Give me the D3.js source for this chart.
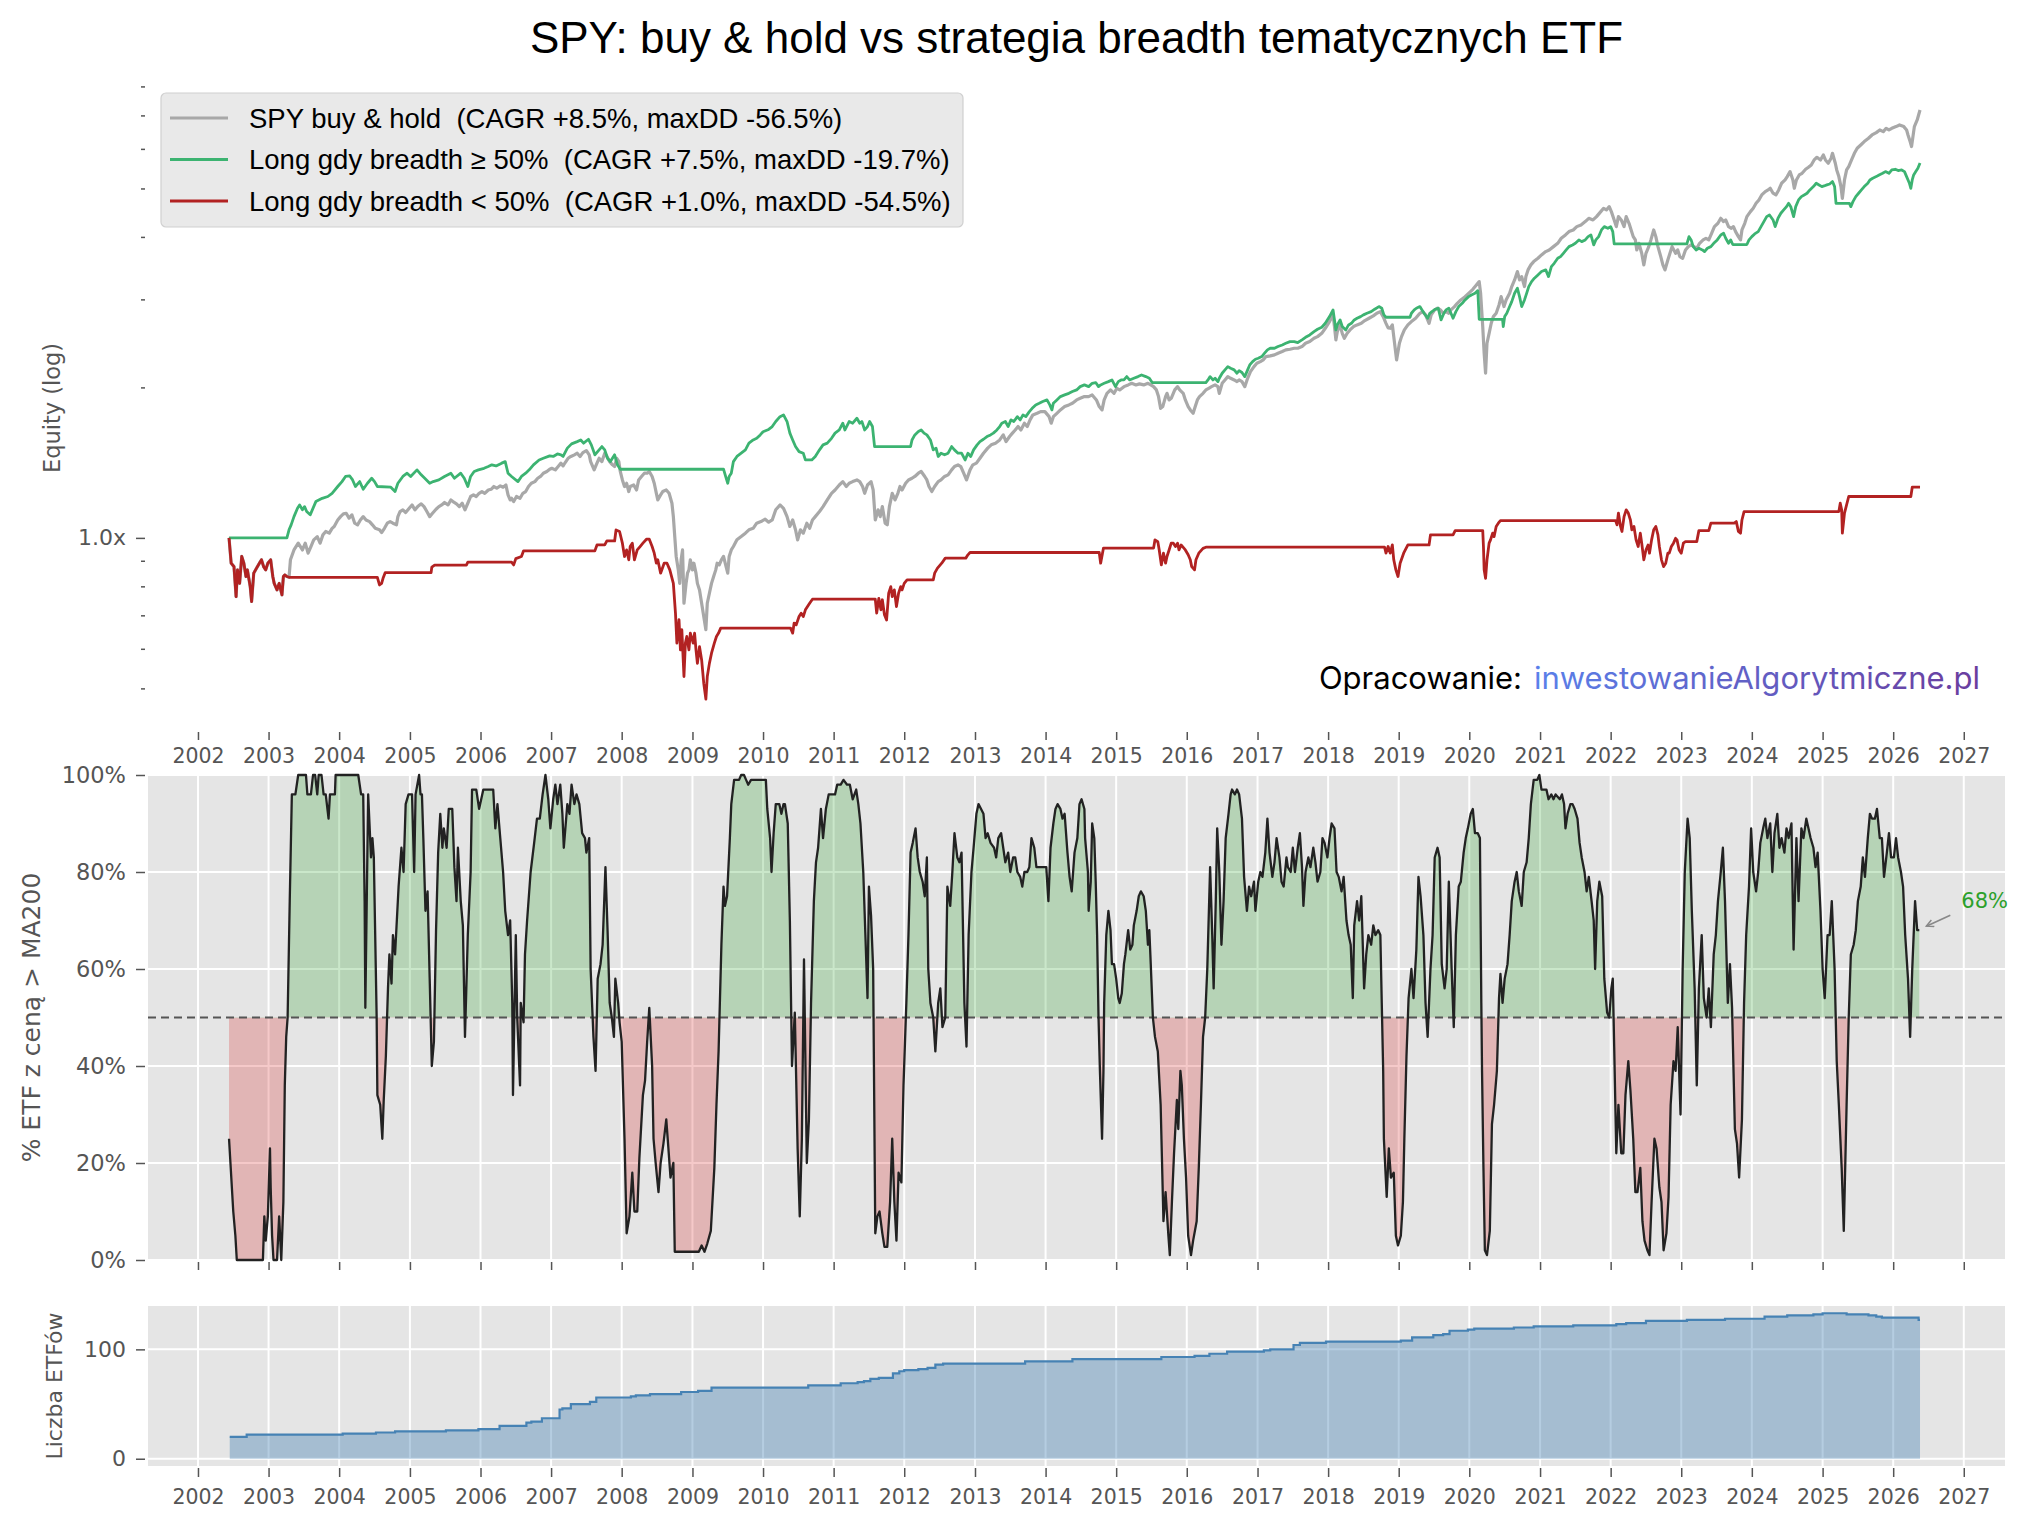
<!DOCTYPE html>
<meta charset="utf-8">
<body style="margin:0;background:#fff">
<script src="https://cdn.jsdelivr.net/npm/d3@7"></script>
<script>

  // ---- data (decimal year, value) ----
  const seriesLabels = [
    'SPY buy & hold  (CAGR +8.5%, maxDD -56.5%)',
    'Long gdy breadth \u2265 50%  (CAGR +7.5%, maxDD -19.7%)',
    'Long gdy breadth < 50%  (CAGR +1.0%, maxDD -54.5%)'
  ];
  const seriesColors = ['#a8a8a8', '#3cb371', '#b22222'];

  const yearTicks = d3.range(2002, 2028);
  const pctTicks = [0, 20, 40, 60, 80, 100];
  const countTicks = [0, 100];
  const equityTicks = [1];
  const equityMinor = [0.5, 0.6, 0.7, 0.8, 0.9, 2, 3, 4, 5, 6, 7, 8];

  const spy = [[2002.44,1.0],[2002.47,0.89],[2002.51,0.876],[2002.54,0.763],[2002.56,0.863],[2002.59,0.811],[2002.62,0.918],[2002.65,0.89],[2002.68,0.837],[2002.70,0.863],[2002.74,0.799],[2002.76,0.746],[2002.79,0.85],[2002.83,0.87],[2002.87,0.89],[2002.90,0.904],[2002.93,0.876],[2002.96,0.863],[2002.99,0.89],[2003.03,0.904],[2003.06,0.837],[2003.08,0.811],[2003.12,0.787],[2003.15,0.811],[2003.19,0.769],[2003.21,0.837],[2003.23,0.843],[2003.26,0.837],[2003.29,0.834],[2003.31,0.904],[2003.36,0.946],[2003.42,0.976],[2003.48,0.946],[2003.52,0.976],[2003.56,0.932],[2003.60,0.961],[2003.64,0.991],[2003.69,1.006],[2003.73,0.976],[2003.77,1.014],[2003.81,1.03],[2003.86,1.022],[2003.90,1.045],[2003.93,1.054],[2003.98,1.086],[2004.02,1.103],[2004.06,1.117],[2004.10,1.12],[2004.14,1.095],[2004.18,1.112],[2004.22,1.07],[2004.26,1.062],[2004.30,1.086],[2004.34,1.103],[2004.38,1.086],[2004.43,1.078],[2004.47,1.062],[2004.51,1.045],[2004.57,1.038],[2004.60,1.025],[2004.64,1.045],[2004.68,1.07],[2004.72,1.078],[2004.76,1.07],[2004.81,1.062],[2004.83,1.103],[2004.86,1.129],[2004.90,1.138],[2004.94,1.124],[2004.99,1.146],[2005.03,1.164],[2005.07,1.138],[2005.11,1.155],[2005.16,1.17],[2005.20,1.155],[2005.24,1.129],[2005.28,1.103],[2005.32,1.12],[2005.37,1.141],[2005.41,1.155],[2005.45,1.164],[2005.49,1.177],[2005.54,1.164],[2005.58,1.191],[2005.61,1.182],[2005.66,1.17],[2005.70,1.155],[2005.74,1.173],[2005.78,1.138],[2005.82,1.173],[2005.86,1.21],[2005.90,1.219],[2005.94,1.21],[2005.98,1.228],[2006.02,1.238],[2006.06,1.228],[2006.11,1.247],[2006.15,1.251],[2006.19,1.267],[2006.23,1.257],[2006.28,1.271],[2006.32,1.263],[2006.36,1.276],[2006.39,1.219],[2006.42,1.191],[2006.44,1.2],[2006.47,1.182],[2006.51,1.21],[2006.56,1.2],[2006.60,1.228],[2006.64,1.238],[2006.68,1.267],[2006.72,1.286],[2006.77,1.296],[2006.81,1.316],[2006.85,1.327],[2006.89,1.347],[2006.94,1.358],[2006.98,1.372],[2007.01,1.378],[2007.06,1.368],[2007.10,1.389],[2007.14,1.411],[2007.17,1.393],[2007.20,1.415],[2007.24,1.443],[2007.28,1.455],[2007.33,1.466],[2007.37,1.477],[2007.41,1.455],[2007.45,1.481],[2007.50,1.495],[2007.54,1.466],[2007.56,1.421],[2007.61,1.368],[2007.65,1.411],[2007.68,1.443],[2007.72,1.421],[2007.76,1.477],[2007.79,1.455],[2007.83,1.421],[2007.87,1.4],[2007.90,1.389],[2007.93,1.443],[2007.96,1.421],[2007.98,1.358],[2008.01,1.306],[2008.04,1.267],[2008.07,1.286],[2008.10,1.238],[2008.12,1.267],[2008.17,1.276],[2008.21,1.247],[2008.24,1.306],[2008.28,1.327],[2008.32,1.347],[2008.36,1.347],[2008.39,1.358],[2008.43,1.327],[2008.46,1.286],[2008.49,1.228],[2008.51,1.191],[2008.55,1.219],[2008.58,1.238],[2008.63,1.247],[2008.67,1.228],[2008.71,1.173],[2008.73,1.103],[2008.75,1.006],[2008.77,0.918],[2008.80,0.863],[2008.82,0.811],[2008.84,0.904],[2008.86,0.946],[2008.88,0.74],[2008.91,0.811],[2008.93,0.85],[2008.95,0.863],[2008.97,0.904],[2009.00,0.863],[2009.02,0.89],[2009.05,0.85],[2009.07,0.811],[2009.10,0.787],[2009.13,0.74],[2009.16,0.696],[2009.19,0.655],[2009.21,0.74],[2009.24,0.775],[2009.27,0.811],[2009.30,0.837],[2009.33,0.863],[2009.35,0.89],[2009.38,0.883],[2009.41,0.904],[2009.44,0.918],[2009.47,0.883],[2009.50,0.85],[2009.52,0.918],[2009.55,0.946],[2009.58,0.961],[2009.63,0.991],[2009.69,1.006],[2009.75,1.022],[2009.80,1.038],[2009.86,1.045],[2009.91,1.07],[2009.97,1.078],[2010.03,1.09],[2010.08,1.075],[2010.13,1.086],[2010.18,1.138],[2010.24,1.164],[2010.29,1.146],[2010.34,1.103],[2010.38,1.054],[2010.42,1.086],[2010.46,1.038],[2010.49,0.991],[2010.53,1.038],[2010.57,1.022],[2010.62,1.07],[2010.66,1.045],[2010.70,1.086],[2010.74,1.103],[2010.80,1.129],[2010.85,1.155],[2010.91,1.191],[2010.97,1.228],[2011.02,1.247],[2011.08,1.276],[2011.13,1.296],[2011.18,1.267],[2011.22,1.286],[2011.27,1.296],[2011.33,1.306],[2011.37,1.296],[2011.41,1.267],[2011.44,1.228],[2011.48,1.276],[2011.53,1.296],[2011.56,1.247],[2011.59,1.086],[2011.63,1.138],[2011.66,1.103],[2011.69,1.155],[2011.73,1.07],[2011.76,1.062],[2011.79,1.155],[2011.83,1.228],[2011.87,1.191],[2011.91,1.228],[2011.94,1.267],[2011.97,1.247],[2012.02,1.286],[2012.06,1.306],[2012.11,1.316],[2012.15,1.327],[2012.20,1.347],[2012.24,1.358],[2012.29,1.327],[2012.32,1.306],[2012.35,1.267],[2012.39,1.238],[2012.43,1.267],[2012.48,1.296],[2012.52,1.306],[2012.57,1.327],[2012.62,1.337],[2012.67,1.368],[2012.71,1.389],[2012.76,1.4],[2012.80,1.389],[2012.84,1.347],[2012.88,1.306],[2012.93,1.368],[2012.97,1.4],[2013.02,1.411],[2013.07,1.443],[2013.12,1.477],[2013.18,1.512],[2013.23,1.535],[2013.29,1.547],[2013.35,1.57],[2013.40,1.607],[2013.44,1.558],[2013.49,1.595],[2013.53,1.62],[2013.57,1.644],[2013.61,1.67],[2013.65,1.644],[2013.70,1.696],[2013.74,1.67],[2013.78,1.722],[2013.82,1.762],[2013.88,1.775],[2013.93,1.789],[2013.99,1.789],[2014.05,1.748],[2014.08,1.696],[2014.11,1.748],[2014.16,1.775],[2014.21,1.803],[2014.27,1.831],[2014.33,1.845],[2014.38,1.859],[2014.44,1.888],[2014.49,1.902],[2014.55,1.917],[2014.61,1.917],[2014.66,1.932],[2014.72,1.888],[2014.76,1.831],[2014.80,1.803],[2014.83,1.888],[2014.87,1.946],[2014.92,1.977],[2014.97,1.946],[2015.01,1.992],[2015.05,1.977],[2015.11,2.007],[2015.17,2.023],[2015.22,2.038],[2015.28,2.023],[2015.33,2.033],[2015.39,2.023],[2015.45,2.038],[2015.49,2.023],[2015.53,2.007],[2015.57,1.977],[2015.60,1.917],[2015.63,1.816],[2015.66,1.831],[2015.70,1.917],[2015.72,1.946],[2015.75,1.888],[2015.78,1.902],[2015.83,1.977],[2015.87,2.007],[2015.90,1.977],[2015.95,1.946],[2015.98,1.888],[2016.02,1.831],[2016.05,1.803],[2016.09,1.775],[2016.12,1.831],[2016.15,1.888],[2016.18,1.917],[2016.23,1.946],[2016.27,1.977],[2016.31,1.992],[2016.35,2.007],[2016.40,2.023],[2016.44,2.007],[2016.46,1.946],[2016.50,2.038],[2016.54,2.07],[2016.58,2.102],[2016.62,2.086],[2016.67,2.07],[2016.71,2.054],[2016.74,2.07],[2016.78,2.054],[2016.82,2.007],[2016.86,2.086],[2016.90,2.151],[2016.95,2.201],[2016.99,2.235],[2017.04,2.252],[2017.08,2.27],[2017.12,2.305],[2017.18,2.312],[2017.24,2.323],[2017.29,2.341],[2017.35,2.359],[2017.40,2.377],[2017.46,2.384],[2017.52,2.395],[2017.57,2.395],[2017.63,2.414],[2017.68,2.451],[2017.74,2.47],[2017.80,2.508],[2017.85,2.527],[2017.91,2.566],[2017.96,2.626],[2018.02,2.708],[2018.07,2.793],[2018.09,2.647],[2018.11,2.489],[2018.13,2.586],[2018.17,2.667],[2018.20,2.566],[2018.23,2.508],[2018.27,2.566],[2018.31,2.606],[2018.36,2.647],[2018.41,2.667],[2018.47,2.687],[2018.52,2.721],[2018.58,2.75],[2018.64,2.78],[2018.69,2.814],[2018.74,2.835],[2018.78,2.771],[2018.82,2.687],[2018.85,2.63],[2018.88,2.626],[2018.91,2.667],[2018.93,2.527],[2018.97,2.27],[2019.01,2.451],[2019.04,2.527],[2019.08,2.606],[2019.13,2.667],[2019.18,2.708],[2019.24,2.75],[2019.30,2.814],[2019.34,2.835],[2019.38,2.793],[2019.41,2.729],[2019.43,2.687],[2019.46,2.793],[2019.51,2.858],[2019.55,2.88],[2019.59,2.858],[2019.63,2.814],[2019.67,2.835],[2019.71,2.814],[2019.74,2.858],[2019.79,2.902],[2019.83,2.946],[2019.88,2.992],[2019.94,3.038],[2019.99,3.085],[2020.05,3.142],[2020.10,3.206],[2020.14,3.256],[2020.16,3.085],[2020.19,2.647],[2020.21,2.341],[2020.23,2.135],[2020.25,2.451],[2020.28,2.566],[2020.31,2.687],[2020.34,2.771],[2020.38,2.814],[2020.42,2.924],[2020.45,3.038],[2020.49,2.902],[2020.52,2.992],[2020.57,3.085],[2020.60,3.182],[2020.64,3.281],[2020.68,3.41],[2020.71,3.281],[2020.74,3.332],[2020.78,3.182],[2020.80,3.332],[2020.83,3.436],[2020.87,3.516],[2020.91,3.57],[2020.97,3.625],[2021.02,3.681],[2021.08,3.738],[2021.13,3.767],[2021.19,3.825],[2021.25,3.884],[2021.30,3.975],[2021.36,4.036],[2021.41,4.099],[2021.47,4.13],[2021.52,4.194],[2021.58,4.227],[2021.64,4.292],[2021.69,4.358],[2021.75,4.325],[2021.80,4.392],[2021.86,4.494],[2021.90,4.563],[2021.94,4.529],[2021.98,4.598],[2022.01,4.494],[2022.05,4.325],[2022.08,4.194],[2022.11,4.392],[2022.15,4.325],[2022.19,4.194],[2022.22,4.392],[2022.26,4.259],[2022.29,4.13],[2022.32,4.005],[2022.35,3.945],[2022.37,3.767],[2022.40,3.884],[2022.44,3.709],[2022.47,3.516],[2022.50,3.709],[2022.54,3.825],[2022.57,3.945],[2022.61,4.13],[2022.64,4.005],[2022.67,3.825],[2022.71,3.653],[2022.74,3.516],[2022.77,3.436],[2022.81,3.597],[2022.84,3.709],[2022.87,3.825],[2022.92,3.709],[2022.95,3.767],[2022.98,3.653],[2023.02,3.625],[2023.06,3.767],[2023.10,3.825],[2023.14,3.855],[2023.18,3.825],[2023.22,3.796],[2023.26,3.884],[2023.31,3.945],[2023.35,3.975],[2023.39,3.945],[2023.43,4.067],[2023.47,4.194],[2023.52,4.259],[2023.56,4.358],[2023.60,4.292],[2023.63,4.325],[2023.67,4.194],[2023.71,4.162],[2023.74,4.194],[2023.77,4.099],[2023.81,4.005],[2023.84,3.945],[2023.86,4.13],[2023.90,4.259],[2023.93,4.392],[2023.98,4.494],[2024.02,4.563],[2024.06,4.669],[2024.10,4.742],[2024.14,4.853],[2024.19,4.928],[2024.23,4.966],[2024.26,5.004],[2024.30,4.891],[2024.34,4.853],[2024.38,4.966],[2024.42,5.121],[2024.47,5.2],[2024.50,5.281],[2024.54,5.404],[2024.58,5.2],[2024.60,5.004],[2024.63,5.2],[2024.67,5.321],[2024.71,5.362],[2024.76,5.462],[2024.80,5.513],[2024.84,5.572],[2024.88,5.702],[2024.92,5.772],[2024.97,5.702],[2025.01,5.834],[2025.04,5.702],[2025.08,5.615],[2025.12,5.745],[2025.14,5.88],[2025.18,5.615],[2025.20,5.445],[2025.23,5.281],[2025.26,5.043],[2025.28,4.778],[2025.31,5.2],[2025.34,5.445],[2025.37,5.53],[2025.41,5.702],[2025.45,5.88],[2025.49,6.017],[2025.54,6.109],[2025.59,6.205],[2025.65,6.3],[2025.70,6.397],[2025.76,6.467],[2025.81,6.546],[2025.86,6.496],[2025.90,6.597],[2025.94,6.546],[2025.98,6.597],[2026.04,6.648],[2026.09,6.699],[2026.15,6.648],[2026.19,6.546],[2026.21,6.397],[2026.24,6.205],[2026.26,6.064],[2026.28,6.349],[2026.30,6.648],[2026.34,6.855],[2026.36,7.015],[2026.38,7.178]];

  const longAbove = [[2002.44,1.0],[2003.26,1.0],[2003.29,1.038],[2003.32,1.062],[2003.36,1.103],[2003.41,1.146],[2003.44,1.164],[2003.48,1.138],[2003.51,1.155],[2003.54,1.129],[2003.59,1.112],[2003.67,1.182],[2003.76,1.2],[2003.84,1.21],[2003.90,1.228],[2003.98,1.267],[2004.04,1.296],[2004.09,1.327],[2004.15,1.33],[2004.19,1.306],[2004.23,1.267],[2004.29,1.296],[2004.34,1.251],[2004.40,1.286],[2004.46,1.316],[2004.50,1.296],[2004.54,1.267],[2004.73,1.263],[2004.79,1.238],[2004.83,1.286],[2004.90,1.327],[2004.96,1.347],[2005.01,1.327],[2005.10,1.368],[2005.16,1.337],[2005.21,1.316],[2005.28,1.286],[2005.33,1.296],[2005.41,1.306],[2005.49,1.327],[2005.58,1.347],[2005.63,1.316],[2005.72,1.347],[2005.77,1.316],[2005.82,1.267],[2005.86,1.327],[2005.91,1.358],[2005.97,1.368],[2006.05,1.378],[2006.11,1.389],[2006.16,1.4],[2006.22,1.393],[2006.30,1.411],[2006.35,1.421],[2006.39,1.347],[2006.44,1.327],[2006.53,1.296],[2006.58,1.327],[2006.64,1.347],[2006.69,1.368],[2006.75,1.4],[2006.83,1.432],[2006.89,1.443],[2006.98,1.459],[2007.03,1.455],[2007.09,1.472],[2007.14,1.466],[2007.17,1.455],[2007.23,1.512],[2007.29,1.542],[2007.37,1.558],[2007.42,1.57],[2007.46,1.547],[2007.53,1.575],[2007.57,1.535],[2007.62,1.466],[2007.68,1.5],[2007.72,1.523],[2007.76,1.5],[2007.80,1.443],[2007.84,1.421],[2007.90,1.466],[2007.94,1.4],[2007.98,1.372],[2009.44,1.372],[2009.47,1.327],[2009.50,1.286],[2009.52,1.327],[2009.55,1.347],[2009.58,1.421],[2009.63,1.455],[2009.69,1.477],[2009.75,1.5],[2009.80,1.547],[2009.86,1.57],[2009.91,1.582],[2009.96,1.607],[2010.00,1.63],[2010.07,1.645],[2010.13,1.67],[2010.18,1.709],[2010.24,1.748],[2010.29,1.762],[2010.34,1.709],[2010.38,1.62],[2010.42,1.57],[2010.46,1.523],[2010.51,1.488],[2010.57,1.477],[2010.60,1.432],[2010.69,1.432],[2010.74,1.455],[2010.80,1.5],[2010.85,1.535],[2010.91,1.547],[2010.97,1.582],[2011.02,1.62],[2011.08,1.644],[2011.13,1.696],[2011.16,1.644],[2011.22,1.709],[2011.27,1.696],[2011.33,1.735],[2011.37,1.696],[2011.40,1.709],[2011.44,1.644],[2011.48,1.67],[2011.51,1.709],[2011.55,1.67],[2011.58,1.523],[2012.09,1.523],[2012.11,1.57],[2012.15,1.607],[2012.20,1.632],[2012.24,1.644],[2012.28,1.62],[2012.32,1.607],[2012.37,1.57],[2012.41,1.5],[2012.45,1.512],[2012.48,1.455],[2012.52,1.477],[2012.57,1.466],[2012.62,1.477],[2012.67,1.523],[2012.71,1.5],[2012.76,1.477],[2012.81,1.477],[2012.86,1.432],[2012.90,1.477],[2012.94,1.455],[2012.98,1.5],[2013.03,1.535],[2013.07,1.558],[2013.12,1.575],[2013.17,1.595],[2013.22,1.607],[2013.26,1.62],[2013.31,1.644],[2013.35,1.67],[2013.38,1.696],[2013.43,1.709],[2013.47,1.67],[2013.51,1.722],[2013.55,1.709],[2013.60,1.748],[2013.64,1.722],[2013.68,1.762],[2013.72,1.748],[2013.77,1.789],[2013.81,1.816],[2013.86,1.845],[2013.91,1.859],[2013.96,1.874],[2014.02,1.888],[2014.06,1.845],[2014.09,1.803],[2014.11,1.859],[2014.16,1.888],[2014.21,1.917],[2014.27,1.932],[2014.33,1.946],[2014.38,1.962],[2014.44,1.977],[2014.49,2.007],[2014.55,2.023],[2014.61,2.007],[2014.66,2.038],[2014.71,2.045],[2014.75,2.007],[2014.78,2.023],[2014.83,2.038],[2014.89,2.054],[2014.94,2.07],[2014.99,2.007],[2015.03,2.054],[2015.07,2.07],[2015.11,2.07],[2015.15,2.102],[2015.19,2.07],[2015.25,2.086],[2015.31,2.102],[2015.36,2.118],[2015.42,2.102],[2015.47,2.086],[2015.51,2.045],[2016.27,2.045],[2016.30,2.07],[2016.33,2.102],[2016.37,2.07],[2016.40,2.086],[2016.44,2.054],[2016.46,2.086],[2016.50,2.135],[2016.54,2.168],[2016.58,2.201],[2016.62,2.184],[2016.67,2.168],[2016.71,2.135],[2016.74,2.161],[2016.78,2.142],[2016.82,2.102],[2016.86,2.168],[2016.89,2.218],[2016.93,2.252],[2016.97,2.277],[2017.01,2.287],[2017.06,2.305],[2017.10,2.341],[2017.14,2.377],[2017.18,2.395],[2017.24,2.395],[2017.29,2.414],[2017.35,2.432],[2017.40,2.451],[2017.46,2.47],[2017.52,2.47],[2017.57,2.459],[2017.63,2.489],[2017.68,2.519],[2017.74,2.547],[2017.80,2.586],[2017.85,2.614],[2017.91,2.638],[2017.96,2.687],[2018.02,2.771],[2018.07,2.858],[2018.09,2.729],[2018.11,2.606],[2018.13,2.667],[2018.17,2.729],[2018.20,2.647],[2018.25,2.606],[2018.29,2.667],[2018.33,2.687],[2018.37,2.729],[2018.41,2.75],[2018.46,2.771],[2018.50,2.793],[2018.55,2.814],[2018.61,2.835],[2018.66,2.867],[2018.72,2.902],[2018.76,2.88],[2018.79,2.793],[2018.82,2.763],[2019.16,2.763],[2019.18,2.814],[2019.22,2.858],[2019.25,2.88],[2019.30,2.902],[2019.33,2.858],[2019.36,2.814],[2019.41,2.75],[2019.44,2.814],[2019.47,2.835],[2019.52,2.867],[2019.56,2.88],[2019.60,2.729],[2019.64,2.814],[2019.67,2.858],[2019.71,2.88],[2019.74,2.814],[2019.77,2.75],[2019.81,2.835],[2019.85,2.902],[2019.90,2.946],[2019.94,2.992],[2019.99,3.038],[2020.03,3.062],[2020.08,3.085],[2020.12,3.123],[2020.14,2.737],[2020.47,2.737],[2020.48,2.647],[2020.50,2.771],[2020.53,2.814],[2020.57,2.902],[2020.60,2.969],[2020.64,3.085],[2020.68,3.157],[2020.71,3.038],[2020.74,2.902],[2020.78,2.992],[2020.81,3.085],[2020.84,3.182],[2020.88,3.256],[2020.92,3.307],[2020.97,3.357],[2021.02,3.41],[2021.08,3.436],[2021.12,3.332],[2021.16,3.489],[2021.20,3.542],[2021.25,3.625],[2021.29,3.653],[2021.33,3.709],[2021.37,3.767],[2021.41,3.825],[2021.46,3.855],[2021.50,3.884],[2021.55,3.945],[2021.59,3.914],[2021.64,3.945],[2021.68,4.005],[2021.72,4.036],[2021.76,3.855],[2021.79,3.945],[2021.83,4.005],[2021.87,4.13],[2021.91,4.194],[2021.96,4.162],[2022.00,4.194],[2022.03,4.099],[2022.05,3.873],[2023.08,3.873],[2023.11,4.005],[2023.14,3.945],[2023.17,3.825],[2023.21,3.767],[2023.25,3.796],[2023.30,3.767],[2023.33,3.738],[2023.37,3.796],[2023.42,3.825],[2023.46,3.884],[2023.51,3.945],[2023.56,4.036],[2023.60,4.067],[2023.63,3.975],[2023.67,3.884],[2023.70,3.945],[2023.73,3.862],[2023.93,3.862],[2023.96,3.945],[2024.00,4.005],[2024.04,4.055],[2024.09,4.099],[2024.13,4.194],[2024.17,4.292],[2024.21,4.392],[2024.25,4.426],[2024.30,4.325],[2024.33,4.194],[2024.37,4.358],[2024.41,4.46],[2024.45,4.529],[2024.49,4.598],[2024.52,4.669],[2024.55,4.598],[2024.59,4.392],[2024.62,4.598],[2024.66,4.742],[2024.70,4.816],[2024.74,4.853],[2024.78,4.891],[2024.82,4.966],[2024.87,5.043],[2024.91,5.121],[2024.95,5.082],[2024.99,5.043],[2025.02,5.058],[2025.06,5.082],[2025.10,5.105],[2025.14,5.161],[2025.17,5.043],[2025.19,4.669],[2025.38,4.669],[2025.40,4.598],[2025.43,4.706],[2025.47,4.816],[2025.51,4.891],[2025.55,4.966],[2025.59,5.043],[2025.64,5.121],[2025.67,5.2],[2025.71,5.24],[2025.76,5.281],[2025.80,5.321],[2025.85,5.362],[2025.89,5.404],[2025.94,5.362],[2025.98,5.445],[2026.03,5.462],[2026.07,5.429],[2026.12,5.445],[2026.16,5.404],[2026.19,5.281],[2026.23,5.121],[2026.25,5.004],[2026.27,5.2],[2026.29,5.321],[2026.32,5.404],[2026.35,5.487],[2026.38,5.62]];

  const longBelow = [[2002.44,1.0],[2002.47,0.89],[2002.51,0.876],[2002.54,0.763],[2002.56,0.863],[2002.59,0.811],[2002.62,0.918],[2002.65,0.89],[2002.68,0.837],[2002.70,0.863],[2002.74,0.799],[2002.76,0.746],[2002.79,0.85],[2002.83,0.87],[2002.87,0.89],[2002.90,0.904],[2002.93,0.876],[2002.96,0.863],[2002.99,0.89],[2003.03,0.904],[2003.06,0.837],[2003.08,0.811],[2003.12,0.787],[2003.15,0.811],[2003.19,0.769],[2003.21,0.837],[2003.23,0.843],[2003.26,0.837],[2003.29,0.834],[2004.54,0.834],[2004.57,0.805],[2004.60,0.811],[2004.62,0.83],[2004.65,0.852],[2005.30,0.852],[2005.31,0.874],[2005.35,0.882],[2005.80,0.882],[2005.82,0.894],[2006.44,0.894],[2006.47,0.883],[2006.50,0.909],[2006.58,0.918],[2006.61,0.942],[2007.62,0.942],[2007.65,0.968],[2007.76,0.968],[2007.79,0.986],[2007.90,0.986],[2007.92,1.037],[2007.97,1.03],[2008.01,0.976],[2008.04,0.918],[2008.07,0.946],[2008.10,0.904],[2008.12,0.961],[2008.15,0.976],[2008.18,0.904],[2008.22,0.946],[2008.26,0.961],[2008.30,0.976],[2008.35,0.994],[2008.39,0.994],[2008.43,0.961],[2008.46,0.932],[2008.49,0.89],[2008.51,0.904],[2008.55,0.85],[2008.60,0.89],[2008.64,0.89],[2008.68,0.863],[2008.73,0.811],[2008.76,0.707],[2008.78,0.616],[2008.81,0.686],[2008.83,0.597],[2008.85,0.655],[2008.88,0.528],[2008.90,0.616],[2008.92,0.635],[2008.95,0.597],[2008.97,0.645],[2009.01,0.616],[2009.03,0.645],[2009.05,0.597],[2009.07,0.561],[2009.10,0.606],[2009.13,0.57],[2009.16,0.512],[2009.19,0.476],[2009.21,0.528],[2009.24,0.561],[2009.27,0.588],[2009.31,0.616],[2009.34,0.635],[2009.37,0.645],[2009.40,0.66],[2010.39,0.66],[2010.42,0.645],[2010.44,0.675],[2010.47,0.67],[2010.51,0.696],[2010.54,0.707],[2010.57,0.696],[2010.60,0.718],[2010.63,0.729],[2010.66,0.74],[2010.70,0.754],[2011.59,0.754],[2011.61,0.707],[2011.64,0.757],[2011.67,0.718],[2011.69,0.752],[2011.72,0.702],[2011.75,0.685],[2011.78,0.775],[2011.81,0.799],[2011.83,0.763],[2011.86,0.787],[2011.89,0.729],[2011.92,0.775],[2011.95,0.799],[2011.97,0.787],[2012.00,0.811],[2012.04,0.824],[2012.41,0.824],[2012.43,0.85],[2012.47,0.87],[2012.53,0.89],[2012.58,0.911],[2012.87,0.911],[2012.90,0.925],[2012.93,0.935],[2014.76,0.935],[2014.78,0.89],[2014.82,0.954],[2015.53,0.954],[2015.55,0.991],[2015.59,0.983],[2015.61,0.946],[2015.64,0.883],[2015.67,0.932],[2015.70,0.89],[2015.72,0.918],[2015.75,0.946],[2015.78,0.976],[2015.81,0.976],[2015.84,0.961],[2015.87,0.976],[2015.89,0.946],[2015.92,0.968],[2015.98,0.946],[2016.02,0.925],[2016.05,0.904],[2016.07,0.876],[2016.11,0.863],[2016.13,0.904],[2016.17,0.932],[2016.23,0.953],[2016.27,0.958],[2018.80,0.958],[2018.82,0.932],[2018.85,0.961],[2018.88,0.932],[2018.91,0.968],[2018.93,0.904],[2018.96,0.863],[2018.99,0.837],[2019.02,0.89],[2019.07,0.932],[2019.13,0.968],[2019.43,0.968],[2019.45,1.014],[2019.77,1.014],[2019.80,1.034],[2020.19,1.034],[2020.20,0.961],[2020.21,0.863],[2020.23,0.83],[2020.25,0.904],[2020.28,0.976],[2020.30,0.991],[2020.33,1.022],[2020.35,1.006],[2020.38,1.054],[2020.41,1.07],[2020.44,1.083],[2022.07,1.083],[2022.09,1.062],[2022.11,1.121],[2022.14,1.054],[2022.16,1.03],[2022.19,1.103],[2022.22,1.138],[2022.25,1.121],[2022.28,1.086],[2022.30,1.038],[2022.33,1.054],[2022.36,0.991],[2022.39,0.961],[2022.42,1.022],[2022.44,0.976],[2022.47,0.904],[2022.50,0.946],[2022.53,0.968],[2022.55,0.932],[2022.58,0.991],[2022.61,1.038],[2022.64,1.054],[2022.67,1.014],[2022.69,0.961],[2022.72,0.904],[2022.75,0.876],[2022.78,0.89],[2022.81,0.932],[2022.83,0.932],[2022.86,0.961],[2022.89,0.976],[2022.92,0.998],[2022.94,0.991],[2022.97,0.946],[2023.00,0.932],[2023.03,0.976],[2023.06,0.983],[2023.22,0.983],[2023.25,1.034],[2023.39,1.034],[2023.42,1.07],[2023.75,1.07],[2023.78,1.078],[2023.81,1.03],[2023.84,1.022],[2023.86,1.086],[2023.89,1.129],[2025.23,1.129],[2025.25,1.173],[2025.27,1.138],[2025.28,1.022],[2025.31,1.121],[2025.37,1.21],[2026.25,1.21],[2026.27,1.263],[2026.38,1.263]];

  const breadth = [[2002.44,25],[2002.46,20],[2002.50,10],[2002.53,5],[2002.55,0],[2002.92,0],[2002.94,9],[2002.96,4],[2002.99,9],[2003.02,23],[2003.03,15],[2003.05,5],[2003.07,0],[2003.12,0],[2003.15,9],[2003.18,0],[2003.21,12],[2003.23,36],[2003.25,46],[2003.27,50],[2003.30,74],[2003.33,96],[2003.38,96],[2003.42,100],[2003.53,100],[2003.55,96],[2003.60,96],[2003.63,100],[2003.66,100],[2003.69,96],[2003.71,100],[2003.75,100],[2003.78,96],[2003.81,96],[2003.85,91],[2003.87,96],[2003.94,96],[2003.95,100],[2004.27,100],[2004.31,96],[2004.34,96],[2004.36,74],[2004.37,52],[2004.41,96],[2004.45,83],[2004.47,87],[2004.49,83],[2004.53,50],[2004.54,34],[2004.58,32],[2004.61,25],[2004.63,33],[2004.66,42],[2004.69,56],[2004.71,63],[2004.74,57],[2004.76,67],[2004.79,63],[2004.84,77],[2004.88,85],[2004.91,80],[2004.94,94],[2004.98,96],[2005.03,96],[2005.06,80],[2005.08,96],[2005.13,100],[2005.15,96],[2005.17,96],[2005.19,87],[2005.22,72],[2005.25,76],[2005.28,58],[2005.31,40],[2005.34,45],[2005.37,68],[2005.40,84],[2005.43,92],[2005.46,85],[2005.48,89],[2005.52,85],[2005.55,93],[2005.60,93],[2005.63,81],[2005.66,74],[2005.68,85],[2005.72,74],[2005.75,69],[2005.78,46],[2005.82,67],[2005.86,80],[2005.88,97],[2005.94,97],[2005.98,93],[2006.04,97],[2006.18,97],[2006.21,89],[2006.24,94],[2006.28,87],[2006.32,80],[2006.35,72],[2006.39,67],[2006.42,70],[2006.45,53],[2006.46,34],[2006.50,67],[2006.52,50],[2006.56,36],[2006.57,53],[2006.61,49],[2006.63,63],[2006.66,70],[2006.71,80],[2006.76,86],[2006.80,91],[2006.84,91],[2006.88,96],[2006.92,100],[2006.96,95],[2006.99,89],[2007.03,95],[2007.06,98],[2007.09,94],[2007.13,98],[2007.16,92],[2007.18,85],[2007.23,94],[2007.26,92],[2007.29,98],[2007.33,94],[2007.36,96],[2007.40,94],[2007.44,88],[2007.48,87],[2007.50,84],[2007.54,87],[2007.56,60],[2007.60,46],[2007.63,39],[2007.66,58],[2007.70,61],[2007.73,65],[2007.77,81],[2007.80,68],[2007.83,53],[2007.86,50],[2007.89,46],[2007.91,58],[2007.95,53],[2007.97,49],[2008.00,45],[2008.04,25],[2008.07,5.5],[2008.11,9],[2008.15,18],[2008.18,10],[2008.22,10],[2008.25,21],[2008.30,34],[2008.33,37],[2008.36,45],[2008.39,52],[2008.43,40],[2008.45,25],[2008.48,20],[2008.52,14],[2008.55,20],[2008.59,24],[2008.63,29],[2008.66,23],[2008.69,17],[2008.73,20],[2008.75,1.7],[2009.09,1.7],[2009.13,3],[2009.17,1.7],[2009.21,3.4],[2009.26,6],[2009.31,19],[2009.34,32],[2009.37,43],[2009.41,65],[2009.44,77],[2009.46,73],[2009.49,75],[2009.53,87],[2009.55,94],[2009.59,99],[2009.66,99],[2009.69,100],[2009.73,100],[2009.76,99],[2009.79,98],[2009.83,99],[2010.04,99],[2010.06,93],[2010.10,87],[2010.12,80],[2010.15,88],[2010.18,94],[2010.23,94],[2010.26,92],[2010.29,94],[2010.31,94],[2010.35,90],[2010.38,70],[2010.41,40],[2010.45,51],[2010.49,23],[2010.52,9],[2010.55,25],[2010.58,62],[2010.62,20],[2010.65,29],[2010.68,53],[2010.72,74],[2010.75,82],[2010.78,85],[2010.82,93],[2010.85,87],[2010.89,93],[2010.93,96],[2011.02,96],[2011.05,98],[2011.10,98],[2011.14,99],[2011.19,98],[2011.23,98],[2011.27,95],[2011.32,97],[2011.35,94],[2011.38,90],[2011.42,80],[2011.45,67],[2011.48,54],[2011.50,77],[2011.53,71],[2011.56,60],[2011.59,5.5],[2011.62,9],[2011.65,10],[2011.69,5.5],[2011.72,2.7],[2011.76,2.7],[2011.80,12],[2011.83,25],[2011.86,12],[2011.89,4],[2011.92,18],[2011.96,16],[2011.99,36],[2012.03,53],[2012.06,67],[2012.09,84],[2012.12,86],[2012.16,89],[2012.19,83],[2012.22,80],[2012.26,78],[2012.29,75],[2012.32,83],[2012.34,60],[2012.37,53],[2012.41,50],[2012.44,43],[2012.48,53],[2012.51,56],[2012.54,48],[2012.58,50],[2012.61,77],[2012.65,73],[2012.68,80],[2012.71,88],[2012.75,83],[2012.78,82],[2012.81,84],[2012.85,53],[2012.88,44],[2012.91,67],[2012.95,80],[2012.98,85],[2013.02,92],[2013.05,94],[2013.12,92],[2013.15,87],[2013.18,88],[2013.22,86],[2013.27,85],[2013.30,83],[2013.33,87],[2013.37,88],[2013.40,85],[2013.43,82],[2013.47,84],[2013.50,80],[2013.54,83],[2013.57,83],[2013.60,80],[2013.64,79],[2013.67,77],[2013.70,80],[2013.74,80],[2013.77,81],[2013.80,87],[2013.84,85],[2013.87,81],[2014.01,81],[2014.04,74],[2014.07,85],[2014.11,90],[2014.14,93],[2014.17,94],[2014.21,93],[2014.24,91],[2014.27,92],[2014.31,84],[2014.34,79],[2014.37,76],[2014.41,84],[2014.45,87],[2014.48,94],[2014.51,95],[2014.55,93],[2014.56,87],[2014.60,80],[2014.61,72],[2014.64,78],[2014.66,90],[2014.69,87],[2014.71,78],[2014.73,67],[2014.75,50],[2014.77,39],[2014.80,25],[2014.82,39],[2014.83,53],[2014.86,67],[2014.89,72],[2014.92,68],[2014.94,61],[2014.97,61],[2015.00,58],[2015.03,54],[2015.05,53],[2015.08,55],[2015.11,61],[2015.13,63],[2015.17,68],[2015.20,64],[2015.23,65],[2015.25,69],[2015.29,72],[2015.32,75],[2015.35,76],[2015.39,75],[2015.42,72],[2015.45,65],[2015.47,68],[2015.49,61],[2015.52,50],[2015.55,46],[2015.59,43],[2015.63,32],[2015.67,8],[2015.70,14],[2015.74,5],[2015.76,1],[2015.79,12],[2015.82,22],[2015.86,33],[2015.88,27],[2015.91,39],[2015.93,36],[2015.96,25],[2015.99,17],[2016.02,5],[2016.06,1],[2016.09,4],[2016.14,8],[2016.17,19],[2016.20,32],[2016.23,46],[2016.26,50],[2016.29,60],[2016.33,81],[2016.36,67],[2016.38,56],[2016.41,74],[2016.43,89],[2016.46,80],[2016.49,65],[2016.52,74],[2016.55,87],[2016.59,92],[2016.62,96],[2016.64,97],[2016.68,96],[2016.71,97],[2016.74,96],[2016.78,91],[2016.81,79],[2016.85,72],[2016.88,77],[2016.91,75],[2016.95,78],[2016.97,72],[2017.01,78],[2017.04,80],[2017.07,79],[2017.11,84],[2017.14,91],[2017.17,84],[2017.21,79],[2017.24,82],[2017.27,87],[2017.31,83],[2017.34,78],[2017.37,77],[2017.41,83],[2017.43,81],[2017.47,80],[2017.50,85],[2017.53,80],[2017.57,85],[2017.60,88],[2017.63,81],[2017.65,73],[2017.68,80],[2017.72,83],[2017.75,81],[2017.79,85],[2017.82,82],[2017.85,78],[2017.89,80],[2017.92,87],[2017.95,86],[2017.99,83],[2018.02,87],[2018.05,90],[2018.09,89],[2018.12,80],[2018.15,79],[2018.19,76],[2018.22,79],[2018.26,70],[2018.29,67],[2018.32,65],[2018.35,54],[2018.37,69],[2018.41,74],[2018.44,70],[2018.47,75],[2018.51,56],[2018.54,63],[2018.57,67],[2018.61,65],[2018.64,69],[2018.67,67],[2018.71,68],[2018.74,67],[2018.76,53],[2018.78,39],[2018.79,25],[2018.83,13],[2018.86,23],[2018.89,17],[2018.93,18],[2018.96,5],[2018.99,3],[2019.03,5],[2019.06,12],[2019.08,25],[2019.11,42],[2019.14,54],[2019.18,60],[2019.21,54],[2019.25,64],[2019.28,79],[2019.31,75],[2019.35,67],[2019.38,53],[2019.41,46],[2019.45,60],[2019.48,67],[2019.51,83],[2019.55,85],[2019.58,83],[2019.61,61],[2019.65,56],[2019.68,60],[2019.71,78],[2019.75,60],[2019.78,48],[2019.81,67],[2019.85,77],[2019.88,78],[2019.92,84],[2019.95,87],[2019.98,89],[2020.02,92],[2020.05,93],[2020.08,88],[2020.12,88],[2020.15,87],[2020.17,53],[2020.18,39],[2020.20,19],[2020.22,2],[2020.25,1],[2020.29,6],[2020.32,28],[2020.35,32],[2020.39,39],[2020.42,54],[2020.44,59],[2020.47,53],[2020.50,58],[2020.54,61],[2020.57,67],[2020.60,74],[2020.64,78],[2020.67,80],[2020.70,76],[2020.74,73],[2020.77,80],[2020.81,82],[2020.84,87],[2020.87,94],[2020.91,99],[2020.96,99],[2020.99,100],[2021.02,97],[2021.06,97],[2021.09,97],[2021.12,95],[2021.16,96],[2021.19,95],[2021.22,96],[2021.28,95],[2021.31,96],[2021.34,94],[2021.36,89],[2021.39,92],[2021.43,94],[2021.46,94],[2021.49,93],[2021.53,91],[2021.56,86],[2021.59,83],[2021.63,80],[2021.66,76],[2021.69,79],[2021.73,74],[2021.76,70],[2021.78,60],[2021.81,74],[2021.84,78],[2021.88,75],[2021.91,58],[2021.95,51],[2021.98,50],[2022.01,56],[2022.03,58],[2022.05,44],[2022.08,22],[2022.11,32],[2022.15,22],[2022.18,22],[2022.21,34],[2022.25,41],[2022.28,35],[2022.32,25],[2022.35,14],[2022.38,14],[2022.42,19],[2022.45,8],[2022.48,4],[2022.52,2],[2022.55,1],[2022.58,12],[2022.62,25],[2022.65,23],[2022.69,15],[2022.72,12],[2022.75,2],[2022.79,5.5],[2022.82,13],[2022.85,32],[2022.89,41],[2022.92,39],[2022.95,48],[2022.99,30],[2023.02,60],[2023.05,80],[2023.09,91],[2023.12,87],[2023.15,72],[2023.19,56],[2023.22,36],[2023.25,56],[2023.29,67],[2023.32,54],[2023.36,50],[2023.39,56],[2023.42,48],[2023.46,63],[2023.49,67],[2023.52,74],[2023.56,80],[2023.59,85],[2023.62,74],[2023.66,53],[2023.69,61],[2023.72,52],[2023.76,27],[2023.79,24],[2023.82,17],[2023.86,29],[2023.89,53],[2023.92,67],[2023.96,77],[2023.99,89],[2024.02,80],[2024.06,76],[2024.09,80],[2024.12,86],[2024.16,89],[2024.19,91],[2024.22,87],[2024.26,90],[2024.29,80],[2024.32,88],[2024.36,92],[2024.39,85],[2024.42,87],[2024.46,84],[2024.49,89],[2024.52,87],[2024.56,90],[2024.59,64],[2024.63,87],[2024.66,74],[2024.70,89],[2024.73,87],[2024.77,91],[2024.80,89],[2024.83,87],[2024.87,85],[2024.90,81],[2024.93,84],[2024.97,72],[2025.00,60],[2025.03,54],[2025.07,67],[2025.10,67],[2025.13,74],[2025.17,60],[2025.20,41],[2025.23,32],[2025.27,19],[2025.30,6],[2025.34,32],[2025.37,50],[2025.40,63],[2025.44,65],[2025.47,68],[2025.50,74],[2025.54,77],[2025.57,83],[2025.60,79],[2025.64,87],[2025.67,92],[2025.70,91],[2025.74,91],[2025.77,93],[2025.81,87],[2025.84,87],[2025.87,79],[2025.91,84],[2025.94,88],[2025.97,83],[2026.01,83],[2026.04,87],[2026.07,83],[2026.11,80],[2026.14,77],[2026.17,67],[2026.21,58],[2026.24,46],[2026.27,60],[2026.31,74],[2026.34,68],[2026.37,68]];

  const etfCount = [[2002.45,20],[2002.69,22],[2004.05,23],[2004.52,24],[2004.79,25],[2005.51,26],[2005.97,27],[2006.27,30],[2006.65,33],[2006.72,34],[2006.87,37],[2007.12,45],[2007.16,46],[2007.28,50],[2007.55,52],[2007.64,56],[2008.13,57],[2008.20,58],[2008.40,59],[2008.84,61],[2009.08,62],[2009.27,65],[2010.64,67],[2011.10,69],[2011.34,70],[2011.43,71],[2011.52,73],[2011.64,74],[2011.84,78],[2011.93,80],[2012.00,81],[2012.20,82],[2012.33,83],[2012.44,86],[2012.55,87],[2013.71,89],[2014.38,91],[2015.64,93],[2016.11,94],[2016.32,96],[2016.57,98],[2017.09,99],[2017.18,100],[2017.51,104],[2017.60,106],[2017.97,107],[2019.03,108],[2019.19,111],[2019.49,113],[2019.63,114],[2019.72,117],[2019.98,118],[2020.07,119],[2020.63,120],[2020.91,121],[2021.47,122],[2022.08,123],[2022.22,124],[2022.50,126],[2023.08,127],[2023.62,128],[2024.18,130],[2024.50,131],[2024.87,132],[2025.00,133],[2025.34,132],[2025.65,131],[2025.76,130],[2025.84,129],[2026.36,127],[2026.38,127]];

  // ---- layout ----
  const width = 2033, height = 1527;
  const left = 148, right = 2005;
  const top1 = 80, bot1 = 732;     // equity panel
  const top2 = 775, bot2 = 1260;   // breadth panel
  const top3 = 1306, bot3 = 1466;  // ETF count panel
  const axisFont = '"DejaVu Sans", sans-serif';
  const textFont = '"Liberation Sans", Arial, sans-serif';
  const tickGrey = '#555';

  // decimal year -> Date
  function toDate(y) {
    const f = Math.floor(y), a = Date.UTC(f, 0, 1), b = Date.UTC(f + 1, 0, 1);
    return new Date(a + (y - f) * (b - a));
  }

  const x = d3.scaleUtc().domain([toDate(2001.292), toDate(2027.584)]).range([left, right]);
  const yEq = d3.scaleLog().domain([0.409, 8.24]).range([bot1, top1]);
  const yPct = d3.scaleLinear().domain([0, 100]).range([bot2, top2]);
  const yCnt = d3.scaleLinear().domain([-6.65, 139.65]).range([bot3, top3]);
  const yearDates = yearTicks.map(toDate);

  const svg = d3.select('body').append('svg')
    .attr('width', width).attr('height', height)
    .style('font-family', axisFont);

  const defs = svg.append('defs');

  // title
  svg.append('text')
    .attr('x', (left + right) / 2).attr('y', 53)
    .attr('text-anchor', 'middle')
    .style('font-family', textFont).style('font-size', '44px').attr('fill', '#000')
    .text('SPY: buy & hold vs strategia breadth tematycznych ETF');

  // ---------- panel backgrounds + grid ----------
  [[top2, bot2], [top3, bot3]].forEach(([t, b]) => {
    svg.append('rect').attr('x', left).attr('y', t)
      .attr('width', right - left).attr('height', b - t).attr('fill', '#e5e5e5');
    svg.append('g').selectAll('line').data(yearDates).join('line')
      .attr('x1', d => x(d)).attr('x2', d => x(d)).attr('y1', t).attr('y2', b)
      .attr('stroke', '#fff').attr('stroke-width', 2);
  });
  svg.append('g').selectAll('line').data(pctTicks).join('line')
    .attr('x1', left).attr('x2', right).attr('y1', d => yPct(d)).attr('y2', d => yPct(d))
    .attr('stroke', '#fff').attr('stroke-width', 2);
  svg.append('g').selectAll('line').data(countTicks).join('line')
    .attr('x1', left).attr('x2', right).attr('y1', d => yCnt(d)).attr('y2', d => yCnt(d))
    .attr('stroke', '#fff').attr('stroke-width', 2);

  // ---------- axes ----------
  function styleAxis(g, size) {
    g.attr('font-family', axisFont).attr('font-size', size);
    g.select('.domain').remove();
    g.selectAll('.tick line').attr('stroke', tickGrey).attr('stroke-width', 1.5);
    g.selectAll('.tick text').attr('fill', tickGrey);
  }

  // equity panel: years under it, log ticks on the left
  svg.append('g').attr('transform', `translate(0,${bot1})`)
    .call(d3.axisBottom(x).tickValues(yearDates).tickFormat(d3.utcFormat('%Y')).tickSize(8).tickPadding(8))
    .call(g => styleAxis(g, 20.5));
  svg.append('g').attr('transform', `translate(${left - 3},0)`)
    .call(d3.axisLeft(yEq).tickValues(equityMinor).tickFormat('').tickSize(4))
    .call(g => styleAxis(g, 22));
  svg.append('g').attr('transform', `translate(${left - 3},0)`)
    .call(d3.axisLeft(yEq).tickValues(equityTicks).tickFormat(d => d.toFixed(1) + 'x').tickSize(9).tickPadding(10))
    .call(g => styleAxis(g, 22));

  // breadth panel
  svg.append('g').attr('transform', `translate(0,${bot2 + 2})`)
    .call(d3.axisBottom(x).tickValues(yearDates).tickFormat('').tickSize(8))
    .call(g => styleAxis(g, 20));
  svg.append('g').attr('transform', `translate(${left - 3},0)`)
    .call(d3.axisLeft(yPct).tickValues(pctTicks).tickFormat(d => d + '%').tickSize(9).tickPadding(10))
    .call(g => styleAxis(g, 22.5));

  // count panel
  svg.append('g').attr('transform', `translate(0,${bot3 + 2})`)
    .call(d3.axisBottom(x).tickValues(yearDates).tickFormat(d3.utcFormat('%Y')).tickSize(9).tickPadding(12))
    .call(g => styleAxis(g, 20.5));
  svg.append('g').attr('transform', `translate(${left - 3},0)`)
    .call(d3.axisLeft(yCnt).tickValues(countTicks).tickSize(9).tickPadding(10))
    .call(g => styleAxis(g, 22));

  // y labels
  function yLabel(text, cx, cy, size) {
    svg.append('text')
      .attr('transform', `translate(${cx},${cy}) rotate(-90)`)
      .attr('text-anchor', 'middle').attr('dominant-baseline', 'central')
      .style('font-size', size + 'px').attr('fill', tickGrey)
      .text(text);
  }
  yLabel('Equity (log)', 52, 408, 22.5);
  yLabel('% ETF z cen\u0105 > MA200', 31, (top2 + bot2) / 2, 25);
  yLabel('Liczba ETF\u00f3w', 54, (top3 + bot3) / 2, 22);

  // ---------- equity lines ----------
  const eqLine = d3.line().x(d => x(toDate(d[0]))).y(d => yEq(d[1]));
  [[spy, 3.2], [longAbove, 2.8], [longBelow, 2.8]].forEach(([data, w], i) => {
    svg.append('path').datum(data)
      .attr('d', eqLine).attr('fill', 'none')
      .attr('stroke', seriesColors[i]).attr('stroke-width', w)
      .attr('stroke-linejoin', 'round');
  });

  // legend
  const leg = svg.append('g').style('font-family', textFont);
  leg.append('rect').attr('x', 161).attr('y', 93).attr('width', 802).attr('height', 134)
    .attr('rx', 5).attr('fill', '#e9e9e9').attr('stroke', '#d0d0d0').attr('stroke-width', 1.2);
  seriesLabels.forEach((label, i) => {
    const ly = 118 + i * 41.5;
    leg.append('line').attr('x1', 170).attr('x2', 228).attr('y1', ly).attr('y2', ly)
      .attr('stroke', seriesColors[i]).attr('stroke-width', 3);
    leg.append('text').attr('x', 249).attr('y', ly).attr('dominant-baseline', 'central')
      .style('font-size', '27.5px').style('white-space', 'pre').attr('fill', '#000')
      .text(label);
  });

  // watermark
  const grad = defs.append('linearGradient').attr('id', 'wm');
  grad.append('stop').attr('offset', '0%').attr('stop-color', '#5a80ea');
  grad.append('stop').attr('offset', '100%').attr('stop-color', '#6a3d9e');
  svg.append('text').attr('x', 1522).attr('y', 689).attr('text-anchor', 'end')
    .style('font-family', 'Inter, sans-serif').style('font-size', '31px').attr('fill', '#000').text('Opracowanie:');
  svg.append('text').attr('x', 1980).attr('y', 689).attr('text-anchor', 'end')
    .style('font-family', 'Inter, sans-serif').style('font-size', '31px').attr('fill', 'url(#wm)')
    .text('inwestowanieAlgorytmiczne.pl');

  // ---------- breadth panel ----------
  const y50 = yPct(50);
  defs.append('clipPath').attr('id', 'above').append('rect')
    .attr('x', left).attr('y', top2).attr('width', right - left).attr('height', y50 - top2);
  defs.append('clipPath').attr('id', 'below').append('rect')
    .attr('x', left).attr('y', y50).attr('width', right - left).attr('height', bot2 - y50);

  const bArea = d3.area().x(d => x(toDate(d[0]))).y0(y50).y1(d => yPct(d[1]));
  svg.append('path').datum(breadth).attr('d', bArea)
    .attr('fill', '#2ca02c').attr('fill-opacity', 0.25).attr('clip-path', 'url(#above)');
  svg.append('path').datum(breadth).attr('d', bArea)
    .attr('fill', '#d62728').attr('fill-opacity', 0.25).attr('clip-path', 'url(#below)');

  svg.append('line').attr('x1', left).attr('x2', right).attr('y1', y50).attr('y2', y50)
    .attr('stroke', '#555').attr('stroke-width', 1.8).attr('stroke-dasharray', '8,5');

  svg.append('path').datum(breadth)
    .attr('d', d3.line().x(d => x(toDate(d[0]))).y(d => yPct(d[1])))
    .attr('fill', 'none').attr('stroke', '#222').attr('stroke-width', 2.3)
    .attr('stroke-linejoin', 'round');

  // last value annotation
  const last = breadth[breadth.length - 1];
  const lx = x(toDate(last[0])), ly = yPct(last[1]);
  defs.append('marker').attr('id', 'arr').attr('viewBox', '0 0 10 10')
    .attr('refX', 9).attr('refY', 5).attr('markerWidth', 9).attr('markerHeight', 9)
    .attr('orient', 'auto-start-reverse').attr('markerUnits', 'userSpaceOnUse')
    .append('path').attr('d', 'M1,1 L9,5 L1,9').attr('fill', 'none')
    .attr('stroke', '#888').attr('stroke-width', 1.6);
  svg.append('line').attr('x1', lx + 31).attr('y1', ly - 15).attr('x2', lx + 7).attr('y2', ly - 4)
    .attr('stroke', '#888').attr('stroke-width', 1.6).attr('marker-end', 'url(#arr)');
  svg.append('text').attr('x', lx + 42).attr('y', ly - 22)
    .style('font-size', '21px').attr('fill', '#2ca02c')
    .text(Math.round(last[1]) + '%');

  // ---------- ETF count panel ----------
  svg.append('path').datum(etfCount)
    .attr('d', d3.area().curve(d3.curveStepAfter).x(d => x(toDate(d[0]))).y0(yCnt(0)).y1(d => yCnt(d[1])))
    .attr('fill', '#4682b4').attr('fill-opacity', 0.4);
  svg.append('path').datum(etfCount)
    .attr('d', d3.line().curve(d3.curveStepAfter).x(d => x(toDate(d[0]))).y(d => yCnt(d[1])))
    .attr('fill', 'none').attr('stroke', '#4682b4').attr('stroke-width', 2.2);

</script>
